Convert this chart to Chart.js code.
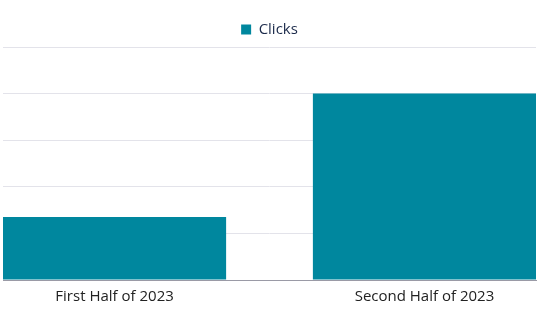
<!DOCTYPE html>
<html>
<head>
<meta charset="utf-8">
<script src="https://cdn.jsdelivr.net/npm/chart.js@4.4.0/dist/chart.umd.min.js"></script>
<style>
  html, body { margin: 0; padding: 0; background: #fff; }
  #wrap { width: 541px; height: 313px; }
</style>
</head>
<body>
<div id="wrap"><canvas id="clicks-chart"></canvas></div>
<script>
const periods = ["First Half of 2023", "Second Half of 2023"];
const clicks = [135, 400];
const seriesName = "Clicks";

const points = clicks.map((v, i) => ({ x: i, y: v }));

new Chart("clicks-chart", {
  type: "bar",
  data: {
    datasets: [
      {
        label: seriesName,
        data: points,
        backgroundColor: "#00879e",
        borderWidth: 0,
      },
    ],
  },
  options: {
    responsive: true,
    maintainAspectRatio: false,
    animation: false,
    layout: {
      padding: { left: 3, right: 5, top: 8, bottom: 7 },
    },
    plugins: {
      legend: {
        display: true,
        labels: {
          boxWidth: 10,
          boxHeight: 10,
          padding: 14,
          color: "#1b2a4a",
          font: { family: "'Open Sans', sans-serif", size: 15 },
        },
      },
      tooltip: { enabled: false },
    },
    scales: {
      x: {
        type: "linear",
        offset: false,
        min: -0.36,
        max: 1.36,
        grid: { display: false },
        border: { display: true, color: "#9a9aa6" },
        ticks: {
          stepSize: 1,
          includeBounds: false,
          padding: 0,
          color: "#222",
          font: { family: "'Open Sans', sans-serif", size: 15 },
          callback: (value) => periods[value] ?? "",
        },
      },
      y: {
        min: 0,
        max: 500,
        ticks: { display: false, stepSize: 100 },
        grid: { color: "#e3e3ea", drawTicks: false },
        border: { display: false },
      },
    },
  },
});
</script>
</body>
</html>
